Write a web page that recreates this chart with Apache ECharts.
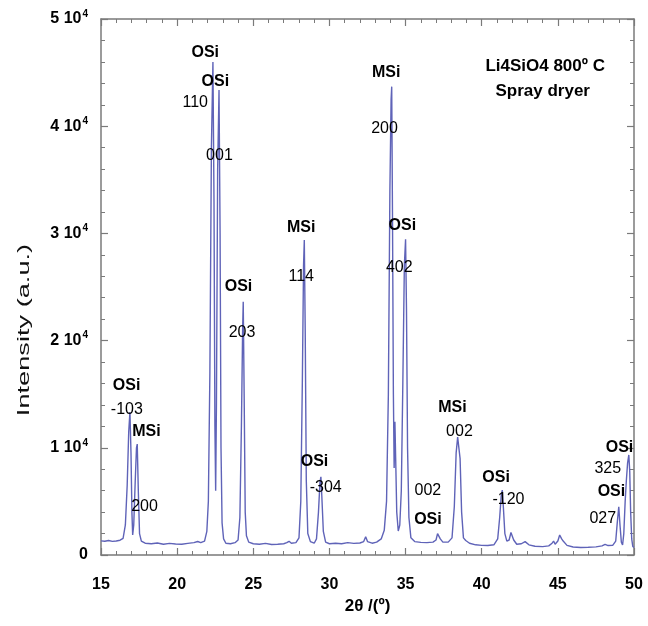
<!DOCTYPE html>
<html><head><meta charset="utf-8">
<script src="https://cdn.jsdelivr.net/npm/echarts@6/dist/echarts.min.js"></script>
<style>html,body{margin:0;padding:0;background:#fff}#c{width:648px;height:626px}</style>
</head><body><div id="c"></div>
<script>
// XRD pattern: 2theta (deg) and intensity (a.u.)
const twoTheta = [15.0,15.25,15.5,15.75,16.0,16.25,16.45,16.6,16.72,16.82,16.9,16.97,17.03,17.08,17.15,17.25,17.33,17.38,17.45,17.53,17.65,17.9,18.3,18.7,19.1,19.5,19.9,20.3,20.7,21.1,21.35,21.55,21.8,21.95,22.05,22.15,22.25,22.35,22.42,22.48,22.53,22.58,22.66,22.75,22.82,22.88,22.95,23.05,23.2,23.5,23.8,24.0,24.12,24.22,24.3,24.34,24.4,24.47,24.55,24.7,25.0,25.4,25.8,26.2,26.6,27.0,27.2,27.35,27.5,27.8,28.0,28.12,28.22,28.3,28.35,28.41,28.48,28.58,28.75,29.0,29.15,29.28,29.38,29.44,29.5,29.6,29.75,30.0,30.4,30.8,31.2,31.6,32.0,32.25,32.38,32.5,32.8,33.1,33.4,33.6,33.75,33.87,33.97,34.05,34.09,34.14,34.2,34.25,34.3,34.35,34.42,34.52,34.62,34.72,34.82,34.92,35.0,35.06,35.13,35.22,35.35,35.6,36.0,36.4,36.8,37.0,37.1,37.19,37.28,37.45,37.8,38.05,38.2,38.32,38.42,38.5,38.58,38.68,38.8,38.95,39.05,39.2,39.6,40.0,40.4,40.8,41.05,41.18,41.28,41.35,41.42,41.52,41.65,41.8,41.92,42.0,42.1,42.3,42.6,42.85,42.95,43.1,43.5,44.0,44.4,44.62,44.72,44.82,45.0,45.12,45.25,45.35,45.47,45.6,46.0,46.5,47.0,47.5,47.9,48.1,48.3,48.6,48.8,48.9,49.0,49.08,49.17,49.25,49.33,49.42,49.5,49.58,49.66,49.72,49.78,49.85,49.92,50.0];
const intensity = [1320,1280,1350,1270,1310,1380,1550,2800,6500,11500,13340,9500,4000,1870,2800,7000,10000,10350,6000,2000,1300,1100,1050,1120,1000,1080,1030,1000,1080,1150,1260,1150,1300,2200,5000,17000,38000,45990,33000,12000,6000,14000,36000,43380,30000,10000,3000,1500,1100,1050,1150,1400,3500,12000,21000,23630,15000,4000,1800,1200,1050,1000,1080,980,1000,1050,1150,1280,1100,1150,1600,5000,16000,27000,29380,21000,7000,2000,1250,1100,1500,4000,6800,7300,5500,2200,1200,1050,1100,1050,1150,1080,1120,1250,1700,1250,1100,1200,1500,2300,5000,15000,34000,42500,43690,32000,15000,8120,12430,9000,4000,2240,2800,6000,16000,27000,29450,23000,10000,3500,1600,1250,1180,1150,1200,1400,2000,2170,1500,1200,1200,1600,4500,9500,11000,11100,9000,4000,1600,1350,1450,1100,950,900,880,950,1500,3500,5500,6060,4500,2000,1300,1400,2100,2170,1400,1000,1050,1250,1300,950,820,780,850,1100,1300,1000,1300,1870,1500,1300,1150,900,750,700,720,760,850,1000,880,900,1300,3000,4500,2800,1200,930,2000,5000,7000,8600,9330,7800,4000,1500,800,700];

// phase labels (bold) at data positions
const phaseText = ['OSi','OSi','OSi','MSi','OSi','MSi','OSi','MSi','OSi','OSi','MSi','OSi','OSi','OSi'];
const phaseX    = [21.88,22.54,24.06,28.18,16.71,18.02,29.05,33.76,34.82,36.5,38.11,40.98,49.08,48.55];
const phaseY    = [46800,44150,25030,30500,15760,11470,8700,44930,30690,3260,13740,7150,9980,5880];

// Miller index labels (regular)
const hklText = ['110','001','203','114','-103','200','-304','200','402','002','002','-120','325','027'];
const hklX    = [21.22,22.81,24.29,28.18,16.73,17.89,29.79,33.65,34.62,36.5,38.57,41.79,48.31,47.98];
const hklY    = [42140,37220,20710,25960,13530,4510,6220,39740,26770,5970,11500,5130,7990,3360];

// sample description
const sampleText = ['Li4SiO4 800º C','Spray dryer'];
const sampleX = [44.2,44.04];
const sampleY = [45550,43220];

const yTickMantissa = [0,1,2,3,4,5];

const FONT = '"Liberation Sans", Arial, sans-serif';
const axisColor = '#7a7a7a';
const labelColor = '#000000';

const chart = echarts.init(document.getElementById('c'));

function axisBase(pos, isX, showLabel){
  return {
    type:'value', position:pos,
    min: isX ? 15 : 0, max: isX ? 50 : 50000, interval: isX ? 5 : 10000,
    axisLine:{show:true, onZero:false, lineStyle:{color:axisColor, width:1.5}},
    axisTick:{show:true, inside:true, length:7, lineStyle:{color:axisColor, width:1.2}},
    minorTick:{show:true, splitNumber:5, length:4, lineStyle:{color:axisColor, width:1}},
    splitLine:{show:false},
    axisLabel:{show:showLabel}
  };
}

const xBottom = axisBase('bottom', true, true);
xBottom.axisLabel = {show:true, color:labelColor, fontWeight:'bold', fontSize:16, fontFamily:FONT, margin:22};
xBottom.name = '2θ /(º)';
xBottom.nameLocation = 'middle';
xBottom.nameGap = 42;
xBottom.nameTextStyle = {color:labelColor, fontWeight:'bold', fontSize:17, fontFamily:FONT};
const xTop = axisBase('top', true, false);

const yLeft = axisBase('left', false, true);
yLeft.axisLabel = {
  show:true, margin:13,
  formatter: v => { const m = v/10000; return m === yTickMantissa[0] ? '{m|0}' : '{m|' + m + ' 10}{s|4}'; },
  rich:{
    m:{fontSize:16, fontWeight:'bold', color:labelColor, fontFamily:FONT, lineHeight:20},
    s:{fontSize:10, fontWeight:'bold', color:labelColor, fontFamily:FONT, verticalAlign:'top', lineHeight:20, padding:[0,0,0,1]}
  }
};
const yRight = axisBase('right', false, false);

function labelSeries(texts, xs, ys, bold, size){
  return {
    type:'scatter', xAxisIndex:0, yAxisIndex:0, silent:true, z:5,
    symbolSize:1, itemStyle:{color:'rgba(0,0,0,0)', opacity:1},
    data: texts.map((t,i)=>({value:[xs[i], ys[i]], name:t})),
    label:{show:true, position:[0,0], align:'center', verticalAlign:'middle', formatter:'{b}', color:labelColor,
      opacity:1, textBorderWidth:0, fontFamily:FONT, fontSize:size, fontWeight: bold ? 'bold' : 'normal'},
    emphasis:{disabled:true}
  };
}

chart.setOption({
  animation:false,
  backgroundColor:'#ffffff',
  grid:{left:101, right:14, top:19, bottom:71, containLabel:false},
  xAxis:[xBottom, xTop],
  yAxis:[yLeft, yRight],
  graphic:[{
    type:'text', x:24, y:330, rotation:Math.PI/2, scaleX:1.6,
    style:{text:'Intensity (a.u.)', fontSize:17, fontFamily:FONT, fill:'#111', align:'center', verticalAlign:'middle'}
  }],
  series:[
    {
      type:'line', xAxisIndex:0, yAxisIndex:0, showSymbol:false, symbol:'none',
      lineStyle:{color:'#5f63b8', width:1.4}, z:3,
      data: twoTheta.map((x,i)=>[x, intensity[i]])
    },
    labelSeries(phaseText, phaseX, phaseY, true, 16),
    labelSeries(hklText, hklX, hklY, false, 16),
    labelSeries(sampleText, sampleX, sampleY, true, 17)
  ]
});
</script>
</body></html>
